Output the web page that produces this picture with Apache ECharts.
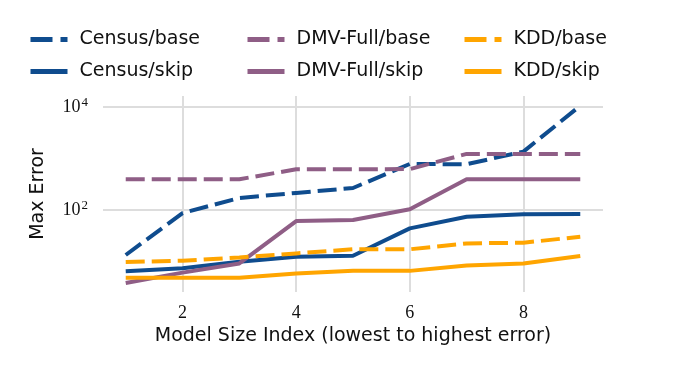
<!DOCTYPE html>
<html>
<head>
<meta charset="utf-8">
<script src="https://cdn.jsdelivr.net/npm/echarts@6/dist/echarts.min.js"></script>
<style>
  html, body { margin: 0; padding: 0; background: #fff; }
  #main { width: 675px; height: 374px; }
</style>
</head>
<body>
<div id="main"></div>
<script>
// model size index 1..9
var sizeIndex = [1, 2, 3, 4, 5, 6, 7, 8, 9];

// max error per series
var censusBase = [13.4, 87, 171, 214, 267, 780, 770, 1355, 10500];
var censusSkip = [6.5, 7.4, 9.9, 12.4, 13, 44, 74, 83, 84];
var dmvBase = [394, 394, 394, 616, 616, 620, 1222, 1222, 1222];
var dmvSkip = [3.83, 6.1, 9.2, 61, 64, 103, 394, 394, 394];
var kddBase = [9.8, 10.4, 12, 14.4, 17.3, 17.3, 22.5, 23.2, 30.3];
var kddSkip = [4.85, 4.85, 4.85, 5.9, 6.6, 6.6, 8.4, 9.2, 12.8];

var seriesNames = ['Census/base', 'Census/skip', 'DMV-Full/base', 'DMV-Full/skip', 'KDD/base', 'KDD/skip'];
var seriesData = [censusBase, censusSkip, dmvBase, dmvSkip, kddBase, kddSkip];

var BLUE = '#0f4c8e', PURPLE = '#8f5e86', ORANGE = '#ffa500';
var colors = [BLUE, BLUE, PURPLE, PURPLE, ORANGE, ORANGE];
var SANS = 'DejaVu Sans';
var SERIF = 'Liberation Serif';
var GRID = '#dddddd';
var NONE = 'rgba(0,0,0,0)';

var myChart = echarts.init(document.getElementById('main'));

function pairs(arr) {
  return arr.map(function (v, i) { return [sizeIndex[i], v]; });
}

var series = seriesNames.map(function (name, i) {
  var dashed = name.indexOf('/base') > 0;
  return {
    name: name,
    type: 'line',
    symbol: 'none',
    data: pairs(seriesData[i]),
    color: colors[i],
    lineStyle: { color: colors[i], width: 4, type: dashed ? [19, 7] : 'solid', cap: 'butt' }
  };
});

// legend: 3 columns x 2 rows, one legend per entry
var legendLeft = [28, 28, 245, 245, 462, 462];
var legendTop = [30, 62, 30, 62, 30, 62];
var legends = seriesNames.map(function (name, i) {
  var dashed = name.indexOf('/base') > 0;
  return {
    data: [name],
    left: legendLeft[i],
    top: legendTop[i],
    padding: 0,
    itemWidth: 37,
    itemHeight: 22,
    selectedMode: false,
    itemStyle: { opacity: 0 },
    lineStyle: { width: 5, color: colors[i], type: dashed ? [22, 8] : 'solid', cap: 'butt', opacity: 1 },
    textStyle: { fontFamily: SANS, fontSize: 19, color: '#111', padding: [0, 0, 0, 7] }
  };
});

var option = {
  animation: false,
  backgroundColor: '#fff',
  legend: legends,
  grid: { left: 103, right: 72, top: 96, bottom: 82 },
  xAxis: {
    type: 'value',
    min: 0.6,
    max: 9.4,
    splitNumber: 5,
    name: 'Model Size Index (lowest to highest error)',
    nameLocation: 'middle',
    nameGap: 33,
    nameTextStyle: { fontFamily: SANS, fontSize: 19, color: '#111' },
    axisLine: { show: false },
    axisTick: { show: false },
    axisLabel: {
      margin: 12,
      fontFamily: SERIF, fontSize: 18, color: '#111',
      formatter: function (v) { return Math.abs(v - Math.round(v)) < 1e-6 ? String(v) : ''; }
    },
    splitLine: { show: true, lineStyle: { color: [NONE, GRID, GRID, GRID, GRID, NONE], width: 2 } }
  },
  yAxis: {
    type: 'log',
    logBase: 10,
    min: 2.57,
    max: 16200,
    name: 'Max Error',
    nameLocation: 'middle',
    nameGap: 55,
    nameTextStyle: { fontFamily: SANS, fontSize: 19, color: '#111' },
    axisLine: { show: false },
    axisTick: { show: false },
    axisLabel: {
      margin: 15,
      formatter: function (v) {
        var e = Math.log10(v);
        var r = Math.round(e);
        if (Math.abs(e - r) < 1e-6 && r % 2 === 0) return '{b|10}{s|' + r + '}';
        return '';
      },
      rich: {
        b: { fontFamily: SERIF, fontSize: 18, color: '#111' },
        s: { fontFamily: SERIF, fontSize: 13, color: '#111', verticalAlign: 'bottom', padding: [0, 0, 8, 1] }
      }
    },
    // ticks: min, 10^1, 10^2, 10^3, 10^4, max -> grid only at 10^2 and 10^4
    splitLine: { show: true, lineStyle: { color: [NONE, NONE, GRID, NONE, GRID, NONE], width: 2 } }
  },
  series: series
};

myChart.setOption(option);
</script>
</body>
</html>
